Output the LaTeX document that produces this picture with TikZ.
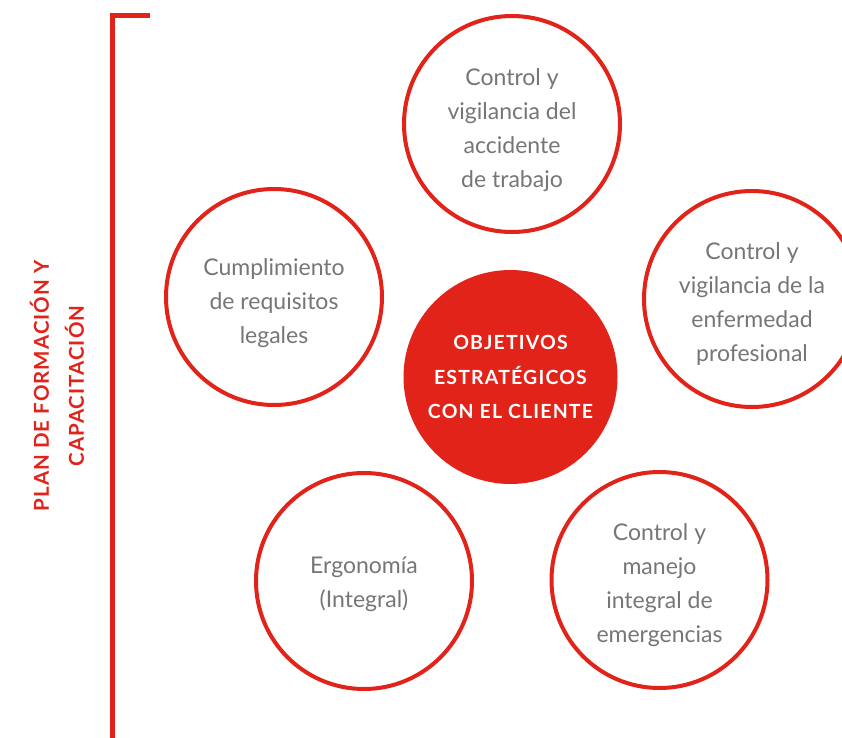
\documentclass[tikz,border=0pt]{standalone}
\usepackage{fontspec}
\setmainfont{Lato}
\usepackage{xcolor}
\definecolor{planred}{HTML}{E2231A}
\definecolor{txtgray}{HTML}{767676}

\tikzset{
  ring/.style={circle, draw=planred, line width=4bp, fill=white, minimum size=216bp,
    inner sep=0pt},
  ringtext/.style={align=center, text=txtgray, inner sep=0pt,
    font=\fontsize{23bp}{34bp}\selectfont},
  core/.style={circle, fill=planred, minimum size=214bp, inner sep=0pt, align=center,
    text=white, font=\fontsize{19.5bp}{34.5bp}\selectfont\bfseries\addfontfeature{LetterSpace=6}},
  sidelabel/.style={rotate=90, align=center, text=planred,
    font=\fontsize{20.5bp}{35bp}\selectfont\bfseries\addfontfeature{LetterSpace=5}}
}

\begin{document}
\begin{tikzpicture}[x=1bp, y=-1bp]
%\draw[help lines] (0,0) grid[step=50] (842,738);
\clip (0,0) rectangle (842,738);
\fill[white] (0,0) rectangle (842,738);

% bracket
\coordinate (bt) at (150,16);
\coordinate (bc) at (112.5,16);
\coordinate (bb) at (112.5,745);
\draw[planred, line width=5bp] (bt) -- (bc) -- (bb);

\node[sidelabel] (plan) at (57,386) {PLAN DE FORMACIÓN Y\\CAPACITACIÓN};

% circles
\node[ring] (accidente) at (512,124) {};
\node[ring] (legales) at (274,297) {};
\node[ring] (enfermedad) at (752,299) {};
\node[ring] (ergonomia) at (364,581) {};
\node[ring] (emergencias) at (659.5,580) {};

\node[ringtext] (accidente-t) at ([yshift=-6bp]accidente.center) {Control y\\vigilancia del\\accidente\\de trabajo};
\node[ringtext] (legales-t) at ([yshift=-6bp]legales.center) {Cumplimiento\\de requisitos\\legales};
\node[ringtext] (enfermedad-t) at ([yshift=-5bp]enfermedad.center) {Control y\\vigilancia de la\\enfermedad\\profesional};
\node[ringtext] (ergonomia-t) at ([yshift=-3bp]ergonomia.center) {Ergonomía\\(Integral)};
\node[ringtext] (emergencias-t) at ([yshift=-5bp]emergencias.center) {Control y\\manejo\\integral de\\emergencias};

\node[core] (objetivos) at (510.5,377) {OBJETIVOS\\ESTRATÉGICOS\\CON EL CLIENTE};
\end{tikzpicture}
\end{document}
